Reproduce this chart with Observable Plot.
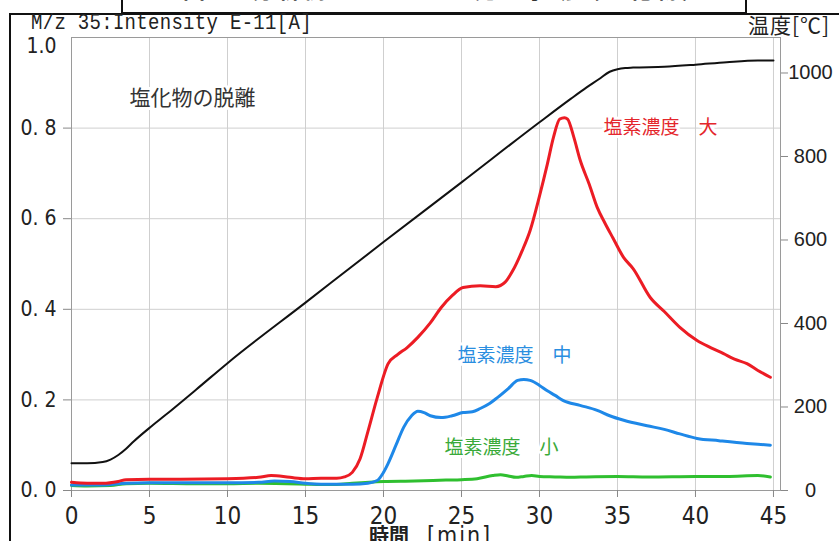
<!DOCTYPE html>
<html><head><meta charset="utf-8">
<script src="https://cdn.jsdelivr.net/npm/d3@7"></script>
<script src="https://cdn.jsdelivr.net/npm/@observablehq/plot@0.6"></script>
<style>
body{margin:0;background:#fff;}
#wrap{position:relative;width:839px;height:541px;overflow:hidden;background:#fff;}
#chart{position:absolute;left:0;top:0;}
.frameL{position:absolute;left:9px;top:13px;width:2px;height:540px;background:#111;}
.frameT{position:absolute;left:9px;top:13px;width:830px;height:2px;background:#111;}
.tbox{position:absolute;left:121px;top:-10px;width:622px;height:20px;border:2px solid #111;background:#fff;overflow:hidden;}
.tbox span{position:absolute;left:60px;top:-15px;font:bold 22px/1 "Noto Sans CJK JP";color:#333;white-space:nowrap;letter-spacing:4px;}
.ylab{position:absolute;left:31px;top:12px;font:19px/1 "Liberation Mono",monospace;color:#222;letter-spacing:0.3px;transform:scaleY(1.2);transform-origin:0 0;}
.yrlab{position:absolute;left:748px;top:14px;font:21px/1 "Noto Sans CJK JP";color:#222;letter-spacing:1px;}
.xlab{position:absolute;left:369px;top:524px;font:20px/1 "Noto Sans CJK JP";color:#222;white-space:nowrap;}
.xlab b{font-weight:bold;margin-right:18px;}
.xlab i{font-style:normal;font-family:"DejaVu Sans Condensed","DejaVu Sans",sans-serif;font-size:23px;letter-spacing:2px;}
</style></head><body><div id="wrap"><div id="chart"></div>
<div class="frameL"></div><div class="frameT"></div>
<div class="tbox"><span>図1　分析例　TPD-MS 発生挙動（塩化物）</span></div>
<div class="ylab">M/z 35:Intensity E-11[A]</div>
<div class="yrlab">温度[℃]</div>
<div class="xlab"><b>時間</b><i>[min]</i></div>
</div>
<script>
// time axis ticks (min)
const xTicks = [0,5,10,15,20,25,30,35,40,45];
// left axis ticks (intensity, E-11 A)
const yTicks = [0,0.2,0.4,0.6,0.8,1.0];
// right axis ticks (temperature, °C)
const tempTicks = [0,200,400,600,800,1000];
const T_MAX = 1085;

// 塩素濃度 大 (red)
const tRed = [0,1,2,3,3.5,5,7,10,12,12.8,14,15,16,17,17.5,18,18.5,19,19.6,20.3,20.9,21.5,22.2,23,23.7,24.4,25.1,26.2,27.2,27.8,28.3,28.9,29.4,30,30.5,30.9,31.3,31.6,31.8,32.2,32.6,33.2,33.7,34.2,34.7,35.4,36,37.1,38,39,40.1,41,41.8,42.5,43.3,44,44.8];
const vRed = [0.018,0.016,0.016,0.02,0.024,0.025,0.025,0.026,0.029,0.033,0.029,0.026,0.027,0.027,0.03,0.04,0.07,0.13,0.205,0.28,0.30,0.315,0.338,0.37,0.404,0.43,0.448,0.452,0.450,0.46,0.486,0.53,0.574,0.65,0.72,0.78,0.82,0.823,0.82,0.78,0.73,0.675,0.625,0.59,0.558,0.514,0.49,0.426,0.395,0.36,0.331,0.315,0.302,0.29,0.28,0.265,0.25];

// 塩素濃度 中 (blue)
const tBlue = [0,2,3.5,5,8,10,12,13,14,15,16,17,18,19,19.6,20,20.3,20.8,21.3,21.8,22.2,22.6,23,23.7,24.4,25.1,25.7,26.2,26.8,27.3,28,28.6,29,29.4,30,30.5,31,31.5,32.6,33.7,34.5,35.4,36.9,38,39,40.1,41.5,43.3,44,44.8];
const vBlue = [0.012,0.012,0.016,0.017,0.017,0.017,0.018,0.021,0.02,0.016,0.014,0.014,0.014,0.016,0.022,0.04,0.06,0.1,0.14,0.165,0.175,0.172,0.165,0.161,0.165,0.172,0.174,0.181,0.192,0.205,0.225,0.243,0.245,0.243,0.232,0.22,0.21,0.199,0.188,0.177,0.165,0.155,0.143,0.135,0.125,0.115,0.11,0.104,0.102,0.1];

// 塩素濃度 小 (green)
const tGreen = [0,1,2.5,3.5,5,8,10,12,15,16,17,18,20,22,24,25,26,27,27.5,28,28.5,29,29.5,30,31,32,33,35,37,40,42,44,44.8];
const vGreen = [0.011,0.010,0.011,0.015,0.016,0.015,0.015,0.016,0.014,0.013,0.013,0.016,0.02,0.021,0.023,0.024,0.026,0.033,0.035,0.032,0.029,0.031,0.033,0.031,0.030,0.029,0.030,0.031,0.030,0.031,0.031,0.033,0.030];

// temperature (black, right axis)
const tTemp = [0,1,2,2.5,3,3.5,4,5,6,8,10,15,20,25,30,32,33,33.8,34.5,35,35.5,36,38,40,42,44,45];
const vTemp = [65,65,68,74,85,100,118,150,180,242,305,450,595,738,882,938,965,985,1003,1009,1012,1013,1015,1020,1026,1030,1030];

// annotations
const labelText = ["塩化物の脱離","塩素濃度　大","塩素濃度　中","塩素濃度　小"];
const labelX = [7.76,37.76,28.4,27.56];
const labelY = [0.865,0.80,0.298,0.095];
const labelColor = ["#333333","#e4262c","#2a8ee0","#3aaa3a"];
const labelWeight = ["normal","bold","bold","bold"];
const labelSize = [21,19,19,19];

const series = (ts, vs) => ts.map((t,i)=>({t, v: vs[i]}));
const red = series(tRed, vRed), blue = series(tBlue, vBlue), green = series(tGreen, vGreen);
const temp = tTemp.map((t,i)=>({t, v: vTemp[i]/T_MAX}));
const labels = labelText.map((s,i)=>({s, x: labelX[i], y: labelY[i], c: labelColor[i], w: labelWeight[i], f: labelSize[i]}));

const narrow = '"DejaVu Sans Condensed","DejaVu Sans",sans-serif';

const chart = Plot.plot({
  width: 839, height: 541,
  marginLeft: 71, marginRight: 59, marginTop: 37, marginBottom: 51,
  x: {domain: [0, 45.45]},
  y: {domain: [0, 1]},
  style: {background: "transparent", color: "#222"},
  marks: [
    Plot.gridX(xTicks, {stroke: "#cfcfcf", strokeOpacity: 1}),
    Plot.gridY([0.2,0.4,0.6,0.8], {stroke: "#cfcfcf", strokeOpacity: 1}),
    Plot.frame({stroke: "#9a9a9a"}),
    Plot.axisX(xTicks, {tickSize: 7, tickPadding: 9, stroke: "#888", fontSize: 24, fontFamily: narrow, fill: "#222", label: null}),
    Plot.axisY(yTicks.filter(d=>d<1), {anchor: "left", tickSize: 8, tickPadding: 7, stroke: "#888", fontSize: 21, fontFamily: narrow, fill: "#222",
      tickFormat: d => d.toFixed(1).replace(".", ". "), label: null}),
    Plot.axisY([1.0], {anchor: "left", tickSize: 0, tickPadding: 15, dy: 9, fontSize: 21, fontFamily: narrow, fill: "#222",
      tickFormat: d => d.toFixed(1), label: null}),
    Plot.axisY(tempTicks.map(d=>d/T_MAX), {anchor: "right", tickSize: 7, tickPadding: 23, textAnchor: "middle", stroke: "#888",
      fontSize: 20, fontFamily: "Liberation Sans, Arial, sans-serif", fill: "#222",
      tickFormat: d => String(Math.round(d*T_MAX)), label: null}),
    Plot.text(labels, {x: "x", y: "y", text: "s", fill: "c", fontWeight: "w", fontSize: "f",
      fontFamily: "Noto Sans CJK JP", stroke: "white", strokeWidth: 6, paintOrder: "stroke"}),
    Plot.line(temp, {x: "t", y: "v", stroke: "#111", strokeWidth: 2, curve: "monotone-x"}),
    Plot.line(green, {x: "t", y: "v", stroke: "#2fbf2f", strokeWidth: 3, curve: "monotone-x"}),
    Plot.line(blue, {x: "t", y: "v", stroke: "#1e88e8", strokeWidth: 3, curve: "monotone-x"}),
    Plot.line(red, {x: "t", y: "v", stroke: "#ec1c24", strokeWidth: 3, curve: "monotone-x"})
  ]
});
document.getElementById("chart").appendChild(chart);
</script>
</body></html>
